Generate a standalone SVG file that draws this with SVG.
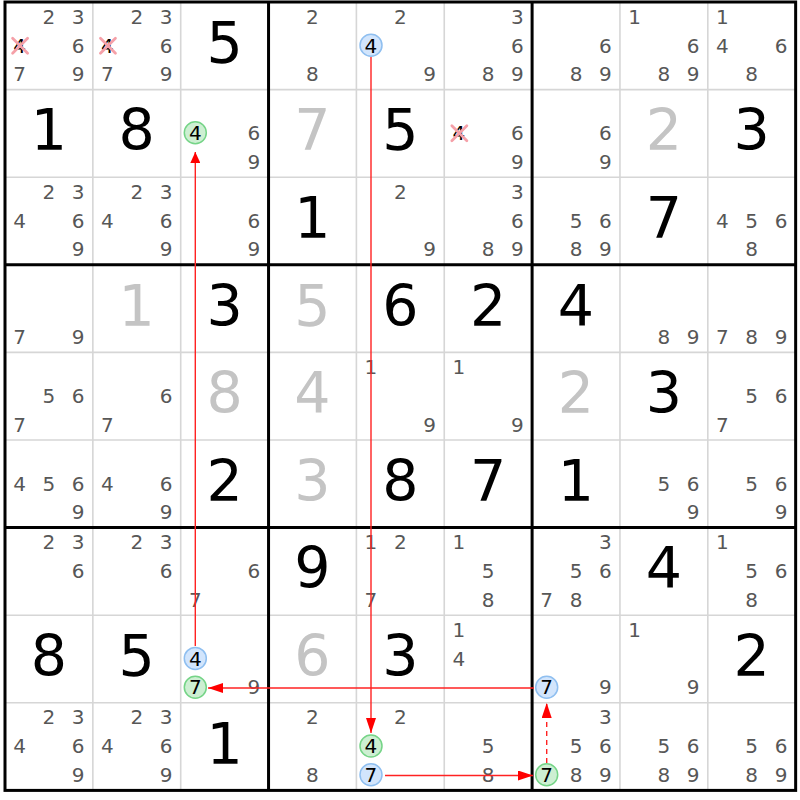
<svg xmlns="http://www.w3.org/2000/svg" width="800" height="800" viewBox="0 0 800 800">
<style>
text{font-family:"DejaVu Sans","Liberation Sans",sans-serif;text-anchor:middle}
.k{font-size:20px;fill:#575757}
.h{font-size:20px;fill:#000}
.b{font-size:57px;fill:#000}
.s{font-size:57px;fill:#c4c4c4}
.cb{fill:#d2e5fc;stroke:#8fbff0;stroke-width:1.5}
.cg{fill:#cdefd2;stroke:#75d487;stroke-width:1.5}
.x{stroke:#f5a0a8;stroke-width:2.8;stroke-linecap:round}
.thin{stroke:#d6d6d6;stroke-width:1.6}
.thick{stroke:#000;stroke-width:3}
.con{stroke:#f22;stroke-width:1.4;fill:none}
</style>
<defs>
<marker id="ah" viewBox="0 0 15 10" refX="15" refY="5" markerWidth="15" markerHeight="10" markerUnits="userSpaceOnUse" orient="auto"><path d="M0,0L15,5L0,10z" fill="#f00"/></marker>
<marker id="ah2" viewBox="0 0 11 10" refX="11" refY="5" markerWidth="11" markerHeight="10" markerUnits="userSpaceOnUse" orient="auto"><path d="M0,0L11,5L0,10z" fill="#f00"/></marker>
</defs>
<rect width="800" height="800" fill="#fff"/>
<g id="grid">
<path class="thin" d="M92.85,2V790.4M180.7,2V790.4M356.4,2V790.4M444.25,2V790.4M619.95,2V790.4M707.8,2V790.4M5,89.6H795.65M5,177.2H795.65M5,352.4H795.65M5,440H795.65M5,615.2H795.65M5,702.8H795.65"/>
<path class="thick" d="M268.55,2V790.4M532.1,2V790.4M5,264.8H795.65M5,527.6H795.65"/>
<rect class="thick" x="5" y="2" width="790.65" height="788.4" fill="none"/>
</g>
<g id="cells">
<g id="r0c0" transform="translate(5,2)"><text class="k" x="43.9" y="21.6">2</text><text class="k" x="73.2" y="21.6">3</text><text class="h" x="14.6" y="50.5">4</text><path class="x" d="M7.6,36.2L22.6,51.2M22.6,36.2L7.6,51.2"/><text class="k" x="73.2" y="50.5">6</text><text class="k" x="14.6" y="79.3">7</text><text class="k" x="73.2" y="79.3">9</text></g>
<g id="r0c1" transform="translate(92.85,2)"><text class="k" x="43.9" y="21.6">2</text><text class="k" x="73.2" y="21.6">3</text><text class="h" x="14.6" y="50.5">4</text><path class="x" d="M7.6,36.2L22.6,51.2M22.6,36.2L7.6,51.2"/><text class="k" x="73.2" y="50.5">6</text><text class="k" x="14.6" y="79.3">7</text><text class="k" x="73.2" y="79.3">9</text></g>
<g id="r0c2" transform="translate(180.7,2)"><text class="b" x="43.9" y="60.8">5</text></g>
<g id="r0c3" transform="translate(268.55,2)"><text class="k" x="43.9" y="21.6">2</text><text class="k" x="43.9" y="79.3">8</text></g>
<g id="r0c4" transform="translate(356.4,2)"><text class="k" x="43.9" y="21.6">2</text><circle class="cb" cx="14.6" cy="43.2" r="11"/><text class="h" x="14.6" y="50.5">4</text><text class="k" x="73.2" y="79.3">9</text></g>
<g id="r0c5" transform="translate(444.25,2)"><text class="k" x="73.2" y="21.6">3</text><text class="k" x="73.2" y="50.5">6</text><text class="k" x="43.9" y="79.3">8</text><text class="k" x="73.2" y="79.3">9</text></g>
<g id="r0c6" transform="translate(532.1,2)"><text class="k" x="73.2" y="50.5">6</text><text class="k" x="43.9" y="79.3">8</text><text class="k" x="73.2" y="79.3">9</text></g>
<g id="r0c7" transform="translate(619.95,2)"><text class="k" x="14.6" y="21.6">1</text><text class="k" x="73.2" y="50.5">6</text><text class="k" x="43.9" y="79.3">8</text><text class="k" x="73.2" y="79.3">9</text></g>
<g id="r0c8" transform="translate(707.8,2)"><text class="k" x="14.6" y="21.6">1</text><text class="k" x="14.6" y="50.5">4</text><text class="k" x="73.2" y="50.5">6</text><text class="k" x="43.9" y="79.3">8</text></g>

<g id="r1c0" transform="translate(5,89.6)"><text class="b" x="43.9" y="60.8">1</text></g>
<g id="r1c1" transform="translate(92.85,89.6)"><text class="b" x="43.9" y="60.8">8</text></g>
<g id="r1c2" transform="translate(180.7,89.6)"><circle class="cg" cx="14.6" cy="43.2" r="11"/><text class="h" x="14.6" y="50.5">4</text><text class="k" x="73.2" y="50.5">6</text><text class="k" x="73.2" y="79.3">9</text></g>
<g id="r1c3" transform="translate(268.55,89.6)"><text class="s" x="43.9" y="60.8">7</text></g>
<g id="r1c4" transform="translate(356.4,89.6)"><text class="b" x="43.9" y="60.8">5</text></g>
<g id="r1c5" transform="translate(444.25,89.6)"><text class="h" x="14.6" y="50.5">4</text><path class="x" d="M7.6,36.2L22.6,51.2M22.6,36.2L7.6,51.2"/><text class="k" x="73.2" y="50.5">6</text><text class="k" x="73.2" y="79.3">9</text></g>
<g id="r1c6" transform="translate(532.1,89.6)"><text class="k" x="73.2" y="50.5">6</text><text class="k" x="73.2" y="79.3">9</text></g>
<g id="r1c7" transform="translate(619.95,89.6)"><text class="s" x="43.9" y="60.8">2</text></g>
<g id="r1c8" transform="translate(707.8,89.6)"><text class="b" x="43.9" y="60.8">3</text></g>

<g id="r2c0" transform="translate(5,177.2)"><text class="k" x="43.9" y="21.6">2</text><text class="k" x="73.2" y="21.6">3</text><text class="k" x="14.6" y="50.5">4</text><text class="k" x="73.2" y="50.5">6</text><text class="k" x="73.2" y="79.3">9</text></g>
<g id="r2c1" transform="translate(92.85,177.2)"><text class="k" x="43.9" y="21.6">2</text><text class="k" x="73.2" y="21.6">3</text><text class="k" x="14.6" y="50.5">4</text><text class="k" x="73.2" y="50.5">6</text><text class="k" x="73.2" y="79.3">9</text></g>
<g id="r2c2" transform="translate(180.7,177.2)"><text class="k" x="73.2" y="50.5">6</text><text class="k" x="73.2" y="79.3">9</text></g>
<g id="r2c3" transform="translate(268.55,177.2)"><text class="b" x="43.9" y="60.8">1</text></g>
<g id="r2c4" transform="translate(356.4,177.2)"><text class="k" x="43.9" y="21.6">2</text><text class="k" x="73.2" y="79.3">9</text></g>
<g id="r2c5" transform="translate(444.25,177.2)"><text class="k" x="73.2" y="21.6">3</text><text class="k" x="73.2" y="50.5">6</text><text class="k" x="43.9" y="79.3">8</text><text class="k" x="73.2" y="79.3">9</text></g>
<g id="r2c6" transform="translate(532.1,177.2)"><text class="k" x="43.9" y="50.5">5</text><text class="k" x="73.2" y="50.5">6</text><text class="k" x="43.9" y="79.3">8</text><text class="k" x="73.2" y="79.3">9</text></g>
<g id="r2c7" transform="translate(619.95,177.2)"><text class="b" x="43.9" y="60.8">7</text></g>
<g id="r2c8" transform="translate(707.8,177.2)"><text class="k" x="14.6" y="50.5">4</text><text class="k" x="43.9" y="50.5">5</text><text class="k" x="73.2" y="50.5">6</text><text class="k" x="43.9" y="79.3">8</text></g>

<g id="r3c0" transform="translate(5,264.8)"><text class="k" x="14.6" y="79.3">7</text><text class="k" x="73.2" y="79.3">9</text></g>
<g id="r3c1" transform="translate(92.85,264.8)"><text class="s" x="43.9" y="60.8">1</text></g>
<g id="r3c2" transform="translate(180.7,264.8)"><text class="b" x="43.9" y="60.8">3</text></g>
<g id="r3c3" transform="translate(268.55,264.8)"><text class="s" x="43.9" y="60.8">5</text></g>
<g id="r3c4" transform="translate(356.4,264.8)"><text class="b" x="43.9" y="60.8">6</text></g>
<g id="r3c5" transform="translate(444.25,264.8)"><text class="b" x="43.9" y="60.8">2</text></g>
<g id="r3c6" transform="translate(532.1,264.8)"><text class="b" x="43.9" y="60.8">4</text></g>
<g id="r3c7" transform="translate(619.95,264.8)"><text class="k" x="43.9" y="79.3">8</text><text class="k" x="73.2" y="79.3">9</text></g>
<g id="r3c8" transform="translate(707.8,264.8)"><text class="k" x="14.6" y="79.3">7</text><text class="k" x="43.9" y="79.3">8</text><text class="k" x="73.2" y="79.3">9</text></g>

<g id="r4c0" transform="translate(5,352.4)"><text class="k" x="43.9" y="50.5">5</text><text class="k" x="73.2" y="50.5">6</text><text class="k" x="14.6" y="79.3">7</text></g>
<g id="r4c1" transform="translate(92.85,352.4)"><text class="k" x="73.2" y="50.5">6</text><text class="k" x="14.6" y="79.3">7</text></g>
<g id="r4c2" transform="translate(180.7,352.4)"><text class="s" x="43.9" y="60.8">8</text></g>
<g id="r4c3" transform="translate(268.55,352.4)"><text class="s" x="43.9" y="60.8">4</text></g>
<g id="r4c4" transform="translate(356.4,352.4)"><text class="k" x="14.6" y="21.6">1</text><text class="k" x="73.2" y="79.3">9</text></g>
<g id="r4c5" transform="translate(444.25,352.4)"><text class="k" x="14.6" y="21.6">1</text><text class="k" x="73.2" y="79.3">9</text></g>
<g id="r4c6" transform="translate(532.1,352.4)"><text class="s" x="43.9" y="60.8">2</text></g>
<g id="r4c7" transform="translate(619.95,352.4)"><text class="b" x="43.9" y="60.8">3</text></g>
<g id="r4c8" transform="translate(707.8,352.4)"><text class="k" x="43.9" y="50.5">5</text><text class="k" x="73.2" y="50.5">6</text><text class="k" x="14.6" y="79.3">7</text></g>

<g id="r5c0" transform="translate(5,440)"><text class="k" x="14.6" y="50.5">4</text><text class="k" x="43.9" y="50.5">5</text><text class="k" x="73.2" y="50.5">6</text><text class="k" x="73.2" y="79.3">9</text></g>
<g id="r5c1" transform="translate(92.85,440)"><text class="k" x="14.6" y="50.5">4</text><text class="k" x="73.2" y="50.5">6</text><text class="k" x="73.2" y="79.3">9</text></g>
<g id="r5c2" transform="translate(180.7,440)"><text class="b" x="43.9" y="60.8">2</text></g>
<g id="r5c3" transform="translate(268.55,440)"><text class="s" x="43.9" y="60.8">3</text></g>
<g id="r5c4" transform="translate(356.4,440)"><text class="b" x="43.9" y="60.8">8</text></g>
<g id="r5c5" transform="translate(444.25,440)"><text class="b" x="43.9" y="60.8">7</text></g>
<g id="r5c6" transform="translate(532.1,440)"><text class="b" x="43.9" y="60.8">1</text></g>
<g id="r5c7" transform="translate(619.95,440)"><text class="k" x="43.9" y="50.5">5</text><text class="k" x="73.2" y="50.5">6</text><text class="k" x="73.2" y="79.3">9</text></g>
<g id="r5c8" transform="translate(707.8,440)"><text class="k" x="43.9" y="50.5">5</text><text class="k" x="73.2" y="50.5">6</text><text class="k" x="73.2" y="79.3">9</text></g>

<g id="r6c0" transform="translate(5,527.6)"><text class="k" x="43.9" y="21.6">2</text><text class="k" x="73.2" y="21.6">3</text><text class="k" x="73.2" y="50.5">6</text></g>
<g id="r6c1" transform="translate(92.85,527.6)"><text class="k" x="43.9" y="21.6">2</text><text class="k" x="73.2" y="21.6">3</text><text class="k" x="73.2" y="50.5">6</text></g>
<g id="r6c2" transform="translate(180.7,527.6)"><text class="k" x="73.2" y="50.5">6</text><text class="k" x="14.6" y="79.3">7</text></g>
<g id="r6c3" transform="translate(268.55,527.6)"><text class="b" x="43.9" y="60.8">9</text></g>
<g id="r6c4" transform="translate(356.4,527.6)"><text class="k" x="14.6" y="21.6">1</text><text class="k" x="43.9" y="21.6">2</text><text class="k" x="14.6" y="79.3">7</text></g>
<g id="r6c5" transform="translate(444.25,527.6)"><text class="k" x="14.6" y="21.6">1</text><text class="k" x="43.9" y="50.5">5</text><text class="k" x="43.9" y="79.3">8</text></g>
<g id="r6c6" transform="translate(532.1,527.6)"><text class="k" x="73.2" y="21.6">3</text><text class="k" x="43.9" y="50.5">5</text><text class="k" x="73.2" y="50.5">6</text><text class="k" x="14.6" y="79.3">7</text><text class="k" x="43.9" y="79.3">8</text></g>
<g id="r6c7" transform="translate(619.95,527.6)"><text class="b" x="43.9" y="60.8">4</text></g>
<g id="r6c8" transform="translate(707.8,527.6)"><text class="k" x="14.6" y="21.6">1</text><text class="k" x="43.9" y="50.5">5</text><text class="k" x="73.2" y="50.5">6</text><text class="k" x="43.9" y="79.3">8</text></g>

<g id="r7c0" transform="translate(5,615.2)"><text class="b" x="43.9" y="60.8">8</text></g>
<g id="r7c1" transform="translate(92.85,615.2)"><text class="b" x="43.9" y="60.8">5</text></g>
<g id="r7c2" transform="translate(180.7,615.2)"><circle class="cb" cx="14.6" cy="43.2" r="11"/><text class="h" x="14.6" y="50.5">4</text><circle class="cg" cx="14.6" cy="72" r="11"/><text class="h" x="14.6" y="79.3">7</text><text class="k" x="73.2" y="79.3">9</text></g>
<g id="r7c3" transform="translate(268.55,615.2)"><text class="s" x="43.9" y="60.8">6</text></g>
<g id="r7c4" transform="translate(356.4,615.2)"><text class="b" x="43.9" y="60.8">3</text></g>
<g id="r7c5" transform="translate(444.25,615.2)"><text class="k" x="14.6" y="21.6">1</text><text class="k" x="14.6" y="50.5">4</text></g>
<g id="r7c6" transform="translate(532.1,615.2)"><circle class="cb" cx="14.6" cy="72" r="11"/><text class="h" x="14.6" y="79.3">7</text><text class="k" x="73.2" y="79.3">9</text></g>
<g id="r7c7" transform="translate(619.95,615.2)"><text class="k" x="14.6" y="21.6">1</text><text class="k" x="73.2" y="79.3">9</text></g>
<g id="r7c8" transform="translate(707.8,615.2)"><text class="b" x="43.9" y="60.8">2</text></g>

<g id="r8c0" transform="translate(5,702.8)"><text class="k" x="43.9" y="21.6">2</text><text class="k" x="73.2" y="21.6">3</text><text class="k" x="14.6" y="50.5">4</text><text class="k" x="73.2" y="50.5">6</text><text class="k" x="73.2" y="79.3">9</text></g>
<g id="r8c1" transform="translate(92.85,702.8)"><text class="k" x="43.9" y="21.6">2</text><text class="k" x="73.2" y="21.6">3</text><text class="k" x="14.6" y="50.5">4</text><text class="k" x="73.2" y="50.5">6</text><text class="k" x="73.2" y="79.3">9</text></g>
<g id="r8c2" transform="translate(180.7,702.8)"><text class="b" x="43.9" y="60.8">1</text></g>
<g id="r8c3" transform="translate(268.55,702.8)"><text class="k" x="43.9" y="21.6">2</text><text class="k" x="43.9" y="79.3">8</text></g>
<g id="r8c4" transform="translate(356.4,702.8)"><text class="k" x="43.9" y="21.6">2</text><circle class="cg" cx="14.6" cy="43.2" r="11"/><text class="h" x="14.6" y="50.5">4</text><circle class="cb" cx="14.6" cy="72" r="11"/><text class="h" x="14.6" y="79.3">7</text></g>
<g id="r8c5" transform="translate(444.25,702.8)"><text class="k" x="43.9" y="50.5">5</text><text class="k" x="43.9" y="79.3">8</text></g>
<g id="r8c6" transform="translate(532.1,702.8)"><text class="k" x="73.2" y="21.6">3</text><text class="k" x="43.9" y="50.5">5</text><text class="k" x="73.2" y="50.5">6</text><circle class="cg" cx="14.6" cy="72" r="11"/><text class="h" x="14.6" y="79.3">7</text><text class="k" x="43.9" y="79.3">8</text><text class="k" x="73.2" y="79.3">9</text></g>
<g id="r8c7" transform="translate(619.95,702.8)"><text class="k" x="43.9" y="50.5">5</text><text class="k" x="73.2" y="50.5">6</text><text class="k" x="43.9" y="79.3">8</text><text class="k" x="73.2" y="79.3">9</text></g>
<g id="r8c8" transform="translate(707.8,702.8)"><text class="k" x="43.9" y="50.5">5</text><text class="k" x="73.2" y="50.5">6</text><text class="k" x="43.9" y="79.3">8</text><text class="k" x="73.2" y="79.3">9</text></g>
</g>
<g id="connectors">
<line class="con" x1="371" y1="57" x2="371" y2="733" marker-end="url(#ah)"/>
<line class="con" x1="195.3" y1="646" x2="195.3" y2="152" marker-end="url(#ah2)"/>
<line class="con" x1="534" y1="688" x2="208" y2="688" marker-end="url(#ah)"/>
<line class="con" x1="385" y1="775.5" x2="533" y2="775.5" marker-end="url(#ah)"/>
<line class="con" x1="546.7" y1="763" x2="546.7" y2="703" stroke-dasharray="5,4" marker-end="url(#ah)"/>
</g>
</svg>
